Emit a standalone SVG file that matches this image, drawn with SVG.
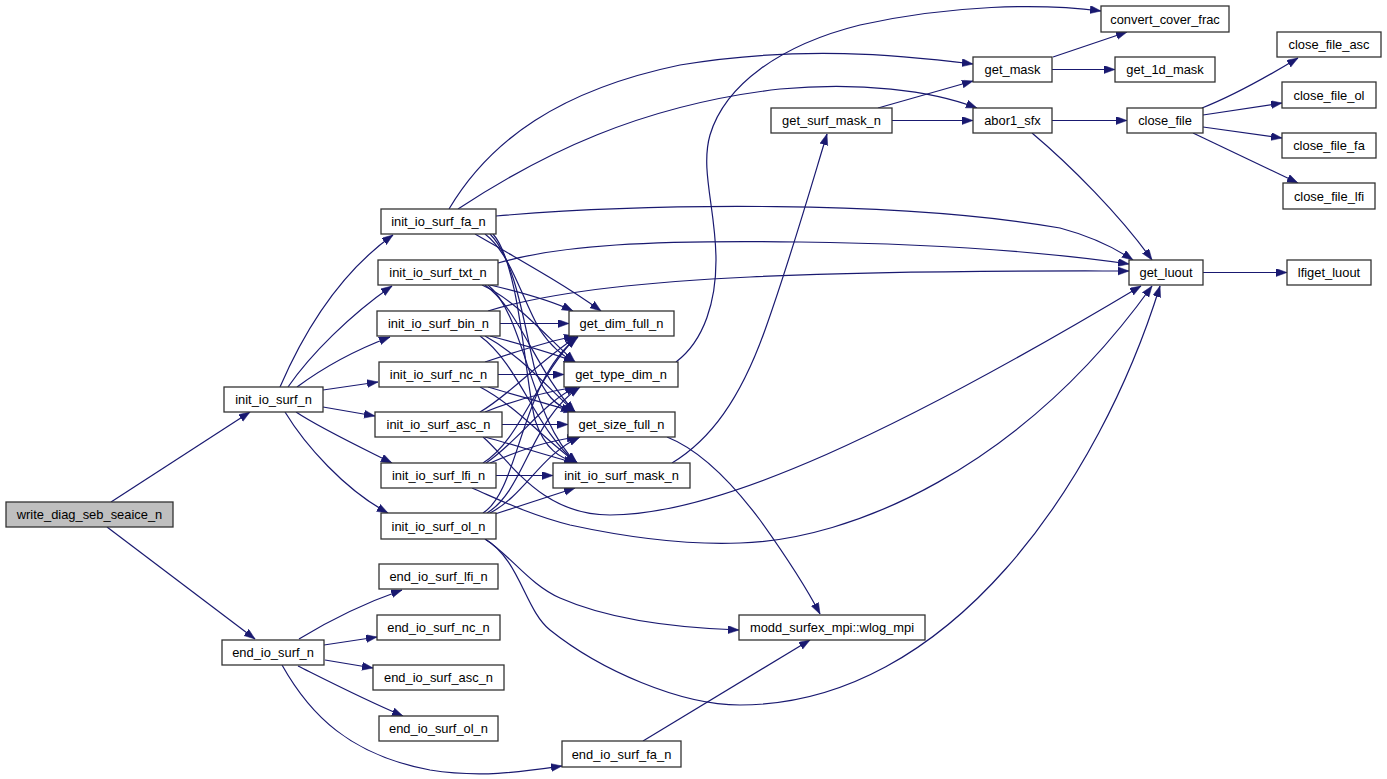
<svg xmlns="http://www.w3.org/2000/svg" width="1387" height="779" viewBox="0 0 1387 779">
<style>
.n rect{fill:#ffffff;stroke:#333333;stroke-width:1.3}
.n.root rect{fill:#bfbfbf}
.n text{font-family:"Liberation Sans",Arial,sans-serif;font-size:12.9px;fill:#000;text-anchor:middle}
.e path{fill:none;stroke:#191970;stroke-width:1.2;marker-end:url(#ah)}
</style>
<defs>
<marker id="ah" markerUnits="userSpaceOnUse" markerWidth="12" markerHeight="9" refX="11" refY="4" orient="auto">
<path d="M0,0 L11,4 L0,8 z" fill="#191970" stroke="#191970" stroke-width="0.5"/>
</marker>
</defs>
<rect width="1387" height="779" fill="#ffffff"/>
<g id="edges" class="e">
<path d="M111,502 L250,412"/>
<path d="M107,527 L255,639"/>
<path d="M280,387 C296,350 330,280 393,235"/>
<path d="M288,387 C310,355 350,315 392,286"/>
<path d="M297,387 C320,370 350,352 390,337"/>
<path d="M323,390 L378,382"/>
<path d="M323,407 L375,416"/>
<path d="M296,412 C320,428 360,447 392,463"/>
<path d="M285,412 C305,445 345,490 388,513"/>
<path d="M299,639 C330,620 365,603 402,590"/>
<path d="M324,645 L377,637"/>
<path d="M325,660 L373,668"/>
<path d="M298,666 C330,682 365,700 403,716"/>
<path d="M282,665 C310,715 350,755 430,770 C480,778 520,772 562,766"/>
<path d="M643,741 L810,640"/>
<path d="M449,209 C490,140 560,90 680,65 C800,45 900,55 973,64"/>
<path d="M458,209 C540,155 640,105 780,89 C860,82 930,90 977,108"/>
<path d="M496,216 C650,203 900,200 1060,228 C1090,236 1115,248 1133,260"/>
<path d="M498,263 C560,245 650,240 800,242 C950,244 1060,254 1129,264"/>
<path d="M488,311 C540,295 620,283 750,277 C900,270 1050,271 1129,271"/>
<path d="M475,234 C520,260 565,285 601,311"/>
<path d="M485,234 C512,255 522,300 540,330 C550,345 560,355 575,362"/>
<path d="M490,234 C516,260 525,330 535,370 C545,395 555,405 572,412"/>
<path d="M493,234 C520,265 525,380 535,420 C545,450 560,458 577,463"/>
<path d="M490,285 C520,292 550,300 573,311"/>
<path d="M482,285 C515,300 540,330 575,362"/>
<path d="M485,285 C520,310 535,370 575,412"/>
<path d="M488,285 C525,315 530,420 577,463"/>
<path d="M500,323.5 L569,323.5"/>
<path d="M490,336 C520,344 550,352 575,362"/>
<path d="M485,336 C520,355 545,385 575,412"/>
<path d="M480,336 C520,365 535,430 577,463"/>
<path d="M485,362 C515,352 545,342 575,336"/>
<path d="M498,374.5 L564,374.5"/>
<path d="M488,387 C515,395 545,403 575,412"/>
<path d="M480,387 C515,405 545,440 577,463"/>
<path d="M480,412 C510,395 540,360 578,336"/>
<path d="M485,412 C515,400 545,392 576,387"/>
<path d="M502,424.5 L568,424.5"/>
<path d="M485,437 C515,445 545,455 575,463"/>
<path d="M483,437 C510,460 540,515 610,515 C720,515 900,430 1141,286"/>
<path d="M483,463 C520,440 535,380 576,337"/>
<path d="M486,463 C520,440 545,400 577,387"/>
<path d="M490,463 C520,450 550,440 578,437"/>
<path d="M496,475.5 L553,475.5"/>
<path d="M472,488 C500,500 530,515 570,525 C630,538 690,545 740,543 C850,540 1020,470 1152,286"/>
<path d="M483,513 C520,490 520,380 578,337"/>
<path d="M487,513 C525,490 530,420 580,387"/>
<path d="M490,513 C525,495 540,455 580,437"/>
<path d="M495,514 L575,488"/>
<path d="M485,539 C510,555 530,585 560,598 C610,620 680,628 739,630"/>
<path d="M485,539 C520,560 525,610 550,630 C600,670 680,705 740,705 C950,705 1100,480 1160,286"/>
<path d="M676,362 C705,340 716,300 716,260 C716,210 700,170 710,135 C725,85 780,45 860,25 C950,5 1040,3 1101,11"/>
<path d="M667,437 C700,450 730,480 760,520 C785,555 805,585 820,614"/>
<path d="M672,463 C710,440 740,400 765,330 C790,260 810,190 827,134"/>
<path d="M878,108 L973,81"/>
<path d="M892,120.5 L973,120.5"/>
<path d="M1053,57 L1127,32"/>
<path d="M1052,69.5 L1115,69.5"/>
<path d="M1052,120.5 L1127,120.5"/>
<path d="M1032,133 C1070,165 1120,215 1152,260"/>
<path d="M1202,108 C1230,97 1265,78 1298,58"/>
<path d="M1203,115 L1282,103"/>
<path d="M1203,127 L1282,138"/>
<path d="M1193,133 L1298,183"/>
<path d="M1203,272.5 L1287,272.5"/>
</g>
<g id="write_diag_seb_seaice_n" class="n root"><rect x="6" y="502" width="167" height="25"/><text x="89.5" y="519">write_diag_seb_seaice_n</text></g>
<g id="init_io_surf_n" class="n"><rect x="224" y="387" width="99" height="25"/><text x="273.5" y="404">init_io_surf_n</text></g>
<g id="end_io_surf_n" class="n"><rect x="222" y="640" width="102" height="25"/><text x="273" y="657">end_io_surf_n</text></g>
<g id="init_io_surf_fa_n" class="n"><rect x="381" y="209" width="115" height="25"/><text x="438.5" y="226">init_io_surf_fa_n</text></g>
<g id="init_io_surf_txt_n" class="n"><rect x="378" y="260" width="120" height="25"/><text x="438" y="277">init_io_surf_txt_n</text></g>
<g id="init_io_surf_bin_n" class="n"><rect x="377" y="311" width="123" height="25"/><text x="438.5" y="328">init_io_surf_bin_n</text></g>
<g id="init_io_surf_nc_n" class="n"><rect x="379" y="362" width="119" height="25"/><text x="438.5" y="379">init_io_surf_nc_n</text></g>
<g id="init_io_surf_asc_n" class="n"><rect x="375" y="412" width="127" height="25"/><text x="438.5" y="429">init_io_surf_asc_n</text></g>
<g id="init_io_surf_lfi_n" class="n"><rect x="381" y="463" width="115" height="25"/><text x="438.5" y="480">init_io_surf_lfi_n</text></g>
<g id="init_io_surf_ol_n" class="n"><rect x="381" y="513" width="115" height="26"/><text x="438.5" y="530.5">init_io_surf_ol_n</text></g>
<g id="get_dim_full_n" class="n"><rect x="569" y="311" width="105" height="25"/><text x="621.5" y="328">get_dim_full_n</text></g>
<g id="get_type_dim_n" class="n"><rect x="564" y="362" width="114" height="25"/><text x="621" y="379">get_type_dim_n</text></g>
<g id="get_size_full_n" class="n"><rect x="568" y="412" width="107" height="25"/><text x="621.5" y="429">get_size_full_n</text></g>
<g id="init_io_surf_mask_n" class="n"><rect x="553" y="463" width="137" height="25"/><text x="621.5" y="480">init_io_surf_mask_n</text></g>
<g id="get_surf_mask_n" class="n"><rect x="771" y="108" width="121" height="25"/><text x="831.5" y="125">get_surf_mask_n</text></g>
<g id="get_mask" class="n"><rect x="973" y="57" width="79" height="25"/><text x="1012.5" y="74">get_mask</text></g>
<g id="abor1_sfx" class="n"><rect x="973" y="108" width="79" height="25"/><text x="1012.5" y="125">abor1_sfx</text></g>
<g id="convert_cover_frac" class="n"><rect x="1101" y="6" width="128" height="26"/><text x="1165" y="23.5">convert_cover_frac</text></g>
<g id="get_1d_mask" class="n"><rect x="1115" y="57" width="100" height="25"/><text x="1165" y="74">get_1d_mask</text></g>
<g id="close_file" class="n"><rect x="1127" y="108" width="76" height="25"/><text x="1165" y="125">close_file</text></g>
<g id="close_file_asc" class="n"><rect x="1277" y="32" width="104" height="25"/><text x="1329" y="49">close_file_asc</text></g>
<g id="close_file_ol" class="n"><rect x="1282" y="82" width="94" height="26"/><text x="1329" y="99.5">close_file_ol</text></g>
<g id="close_file_fa" class="n"><rect x="1282" y="133" width="94" height="25"/><text x="1329" y="150">close_file_fa</text></g>
<g id="close_file_lfi" class="n"><rect x="1283" y="183" width="92" height="26"/><text x="1329" y="200.5">close_file_lfi</text></g>
<g id="get_luout" class="n"><rect x="1129" y="260" width="74" height="25"/><text x="1166" y="277">get_luout</text></g>
<g id="lfiget_luout" class="n"><rect x="1287" y="260" width="84" height="25"/><text x="1329" y="277">lfiget_luout</text></g>
<g id="modd_surfex_mpi_wlog_mpi" class="n"><rect x="739" y="615" width="186" height="25"/><text x="832" y="632">modd_surfex_mpi::wlog_mpi</text></g>
<g id="end_io_surf_lfi_n" class="n"><rect x="379" y="564" width="119" height="25"/><text x="438.5" y="581">end_io_surf_lfi_n</text></g>
<g id="end_io_surf_nc_n" class="n"><rect x="377" y="615" width="123" height="25"/><text x="438.5" y="632">end_io_surf_nc_n</text></g>
<g id="end_io_surf_asc_n" class="n"><rect x="373" y="665" width="131" height="25"/><text x="438.5" y="682">end_io_surf_asc_n</text></g>
<g id="end_io_surf_ol_n" class="n"><rect x="379" y="716" width="119" height="25"/><text x="438.5" y="733">end_io_surf_ol_n</text></g>
<g id="end_io_surf_fa_n" class="n"><rect x="562" y="741" width="119" height="26"/><text x="621.5" y="758.5">end_io_surf_fa_n</text></g>
</svg>
